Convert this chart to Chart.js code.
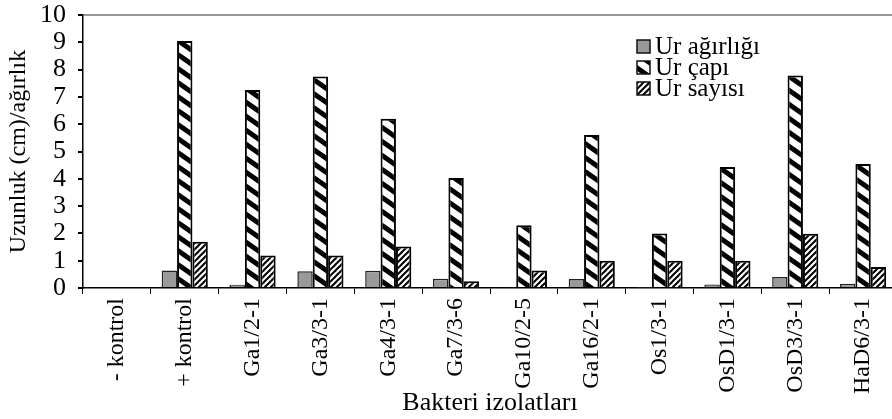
<!DOCTYPE html>
<html>
<head>
<meta charset="utf-8">
<script src="https://cdn.jsdelivr.net/npm/chart.js@4"></script>
<style>
  body { margin: 0; overflow: hidden; background: #fff; }
</style>
</head>
<body>
<canvas id="myChart" width="900" height="419" style="width:900px;height:419px"></canvas>
<script>
// bakteri izolatlari
const categories = ['- kontrol', '+ kontrol', 'Ga1/2-1', 'Ga3/3-1', 'Ga4/3-1', 'Ga7/3-6',
  'Ga10/2-5', 'Ga16/2-1', 'Os1/3-1', 'OsD1/3-1', 'OsD3/3-1', 'HaD6/3-1'];
const urAgirligi = [0, 0.64, 0.12, 0.61, 0.63, 0.34, 0.03, 0.33, 0.02, 0.13, 0.4, 0.16];
const urCapi = [0, 9.05, 7.25, 7.75, 6.2, 4.03, 2.3, 5.6, 2.0, 4.43, 7.78, 4.54];
const urSayisi = [0, 1.69, 1.19, 1.19, 1.52, 0.25, 0.64, 1.0, 1.0, 1.0, 1.99, 0.77];
const seriesNames = ['Ur ağırlığı', 'Ur çapı', 'Ur sayısı'];
const yTicks = [0, 1, 2, 3, 4, 5, 6, 7, 8, 9, 10];

const serif = '"Liberation Serif", "Times New Roman", serif';

// stripe patterns
function makeStripes(w, h, lineW, down) {
    const c = document.createElement('canvas');
    c.width = w;
    c.height = h;
    const g = c.getContext('2d');
    g.fillStyle = '#fff';
    g.fillRect(0, 0, w, h);
    g.strokeStyle = '#000';
    g.lineWidth = lineW;
    for (let k = -1; k <= 1; k++) {
        g.beginPath();
        if (down) {
            g.moveTo(-w, -h + k * h);
            g.lineTo(2 * w, 2 * h + k * h);
        } else {
            g.moveTo(-w, 2 * h + k * h);
            g.lineTo(2 * w, -h + k * h);
        }
        g.stroke();
    }
    return g.createPattern(c, 'repeat');
}

const capPattern = makeStripes(20, 14, 5, true);
const sayiPattern = makeStripes(6, 6, 2, false);
const fills = ['#9a9a9a', capPattern, sayiPattern];

// legend inside the plot
const insideLegend = {
    id: 'insideLegend',
    afterDraw(chart) {
        const ctx = chart.ctx;
        ctx.save();
        ctx.font = '25px ' + serif;
        ctx.textBaseline = 'middle';
        for (let i = 0; i < seriesNames.length; i++) {
            const cy = 46 + 21 * i;
            ctx.fillStyle = fills[i];
            ctx.fillRect(637, cy - 6, 13, 13);
            ctx.strokeStyle = '#111';
            ctx.lineWidth = 1.5;
            ctx.strokeRect(637, cy - 6, 13, 13);
            ctx.fillStyle = '#000';
            ctx.fillText(seriesNames[i], 655, cy + 1);
        }
        ctx.restore();
    }
};

const data = {
    labels: categories,
    datasets: [
        { label: seriesNames[0], data: urAgirligi, backgroundColor: fills[0], borderColor: '#222', borderWidth: 1.5 },
        { label: seriesNames[1], data: urCapi, backgroundColor: fills[1], borderColor: '#000', borderWidth: 2 },
        { label: seriesNames[2], data: urSayisi, backgroundColor: fills[2], borderColor: '#000', borderWidth: 2 }
    ]
};

const config = {
    type: 'bar',
    data: data,
    options: {
        responsive: false,
        animation: false,
        datasets: { bar: { categoryPercentage: 0.68, barPercentage: 1.0 } },
        layout: { padding: { top: 15, right: 3, left: 0, bottom: 0 } },
        plugins: {
            legend: { display: false },
            tooltip: { enabled: false }
        },
        scales: {
            x: {
                afterFit(scale) { scale.height = 131; },
                grid: { drawOnChartArea: false, offset: true, tickLength: 6, tickColor: '#000', lineWidth: 1 },
                border: { color: '#000', width: 1.5 },
                ticks: { color: '#000', font: { family: serif, size: 24 }, minRotation: 90, maxRotation: 90, padding: 4, autoSkip: false },
                title: { display: true, text: 'Bakteri izolatları', color: '#000', font: { family: serif, size: 26 }, padding: 0 }
            },
            y: {
                min: 0,
                max: 10,
                afterFit(scale) {
                    scale.width = 83;
                    // top label may stick out above the plot
                    scale.paddingTop = 0;
                    scale.paddingBottom = 0;
                },
                afterBuildTicks(scale) { scale.ticks = yTicks.map(v => ({ value: v })); },
                grid: {
                    color: ctx => ctx.tick && ctx.tick.value === 10 ? '#999' : 'rgba(0,0,0,0)',
                    lineWidth: 2,
                    tickColor: '#000',
                    tickLength: 5
                },
                border: { color: '#000', width: 1.5 },
                ticks: { color: '#000', font: { family: serif, size: 26, lineHeight: 1 }, padding: 12, autoSkip: false, stepSize: 1 },
                title: { display: true, text: 'Uzunluk (cm)/ağırlık', color: '#000', font: { family: serif, size: 24 }, padding: { top: 4, bottom: 0 } }
            }
        }
    },
    plugins: [insideLegend]
};

const myChart = new Chart(document.getElementById('myChart'), config);
</script>
</body>
</html>
